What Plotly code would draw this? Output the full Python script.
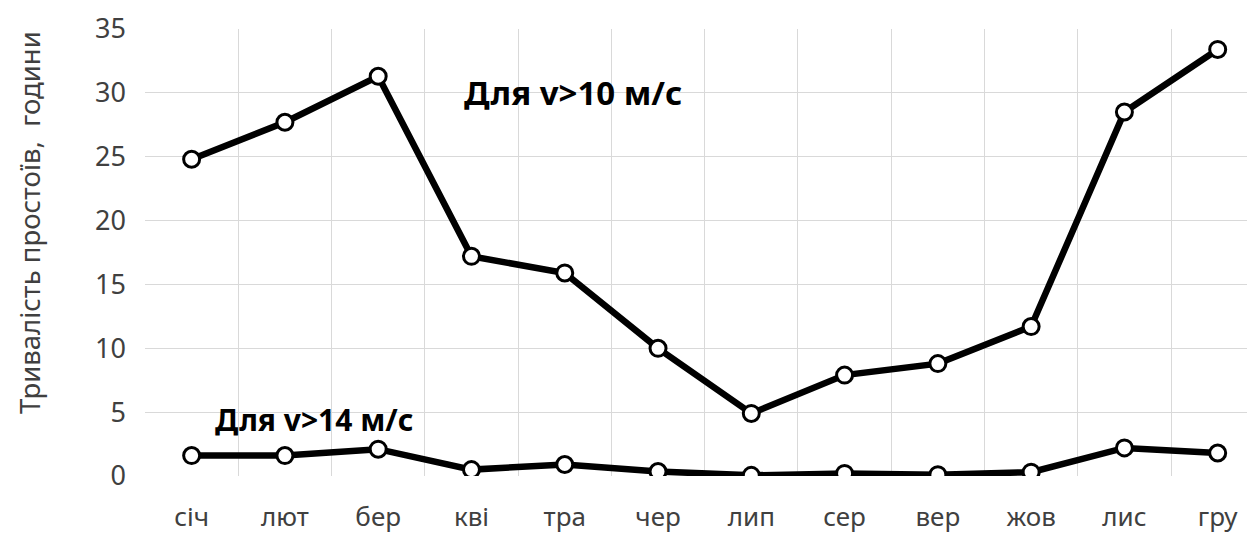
import plotly.graph_objects as go

months = ["січ", "лют", "бер", "кві", "тра", "чер", "лип", "сер", "вер", "жов", "лис", "гру"]
v10 = [24.8, 27.7, 31.3, 17.2, 15.9, 10.0, 4.9, 7.9, 8.8, 11.7, 28.5, 33.4]
v14 = [1.6, 1.6, 2.1, 0.5, 0.9, 0.35, 0.05, 0.2, 0.1, 0.3, 2.2, 1.8]
y_ticks = [0, 5, 10, 15, 20, 25, 30, 35]
y_title = "Тривалість простоїв,  години"

FONT = "Noto Sans"
GRAY = "#404040"

fig = go.Figure()
for vals in (v10, v14):
    fig.add_trace(go.Scatter(
        x=months, y=vals, mode="lines+markers",
        line=dict(color="black", width=6.5),
        marker=dict(symbol="circle", size=16, color="white",
                    line=dict(color="black", width=3)),
        showlegend=False, hoverinfo="skip"))

# white box behind lower label (hides gridlines)
fig.add_shape(type="rect", xref="x", yref="y", x0=0.02, x1=3.2, y0=2.6, y1=7.2,
              fillcolor="white", line=dict(width=0), layer="below")

fig.add_annotation(x=4.09, y=30.0, xref="x", yref="y", text="<b>Для v>10 м/с</b>",
                   showarrow=False, font=dict(family=FONT, size=33, color="black"))
fig.add_annotation(x=1.32, y=4.4, xref="x", yref="y", text="<b>Для v>14 м/с</b>",
                   showarrow=False, font=dict(family=FONT, size=30, color="black"))
# y-axis title (placed as annotation to match its off-centre position)
fig.add_annotation(x=-0.1036, y=0.566, xref="paper", yref="paper", text=y_title,
                   textangle=-90, showarrow=False, xanchor="center", yanchor="middle",
                   font=dict(family=FONT, size=27.5, color=GRAY))

fig.update_layout(
    width=1247, height=526,
    margin=dict(l=137, r=0, t=21, b=58),
    paper_bgcolor="white", plot_bgcolor="white",
    font=dict(family=FONT, size=26, color=GRAY),
    xaxis=dict(type="category", categoryorder="array", categoryarray=months,
               range=[-0.5, 11.4], tickson="boundaries", showgrid=True,
               gridcolor="#d9d9d9", gridwidth=1, showline=False, ticks="",
               automargin=False,
               ticklabelstandoff=23, tickfont=dict(size=26, color=GRAY)),
    yaxis=dict(range=[0, 35], tickvals=y_ticks, showgrid=True, gridcolor="#d9d9d9",
               gridwidth=1, zeroline=False, showline=False, ticks="",
               automargin=False,
               ticklabelstandoff=18, tickfont=dict(size=27, color=GRAY)),
)

fig.write_html("out.html")
